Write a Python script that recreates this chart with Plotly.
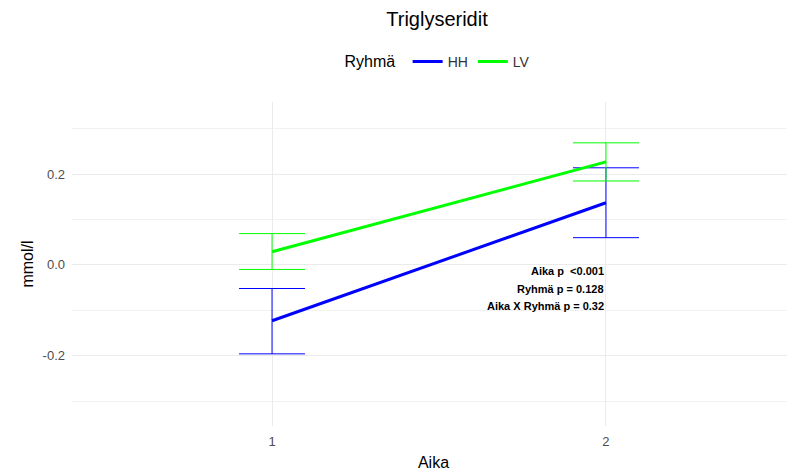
import plotly.graph_objects as go

aika = [1, 2]
groups = ["HH", "LV"]
hh_mean = [-0.123, 0.137]
hh_upper = [-0.052, 0.214]
hh_lower = [-0.196, 0.060]
lv_mean = [0.029, 0.227]
lv_upper = [0.069, 0.269]
lv_lower = [-0.010, 0.185]
colors = {"HH": "#0000FF", "LV": "#00FF00"}
stats_lines = ["Aika p  <0.001", "Ryhmä p = 0.128", "Aika X Ryhmä p = 0.32"]
stats_y = [-0.014, -0.053, -0.091]

FONT = "Liberation Sans, Arial, sans-serif"
W, H = 787, 464  # page body has an 8px margin

fig = go.Figure()
data = {"HH": (hh_mean, hh_upper, hh_lower), "LV": (lv_mean, lv_upper, lv_lower)}
for g in groups:
    m, up, lo = data[g]
    fig.add_trace(go.Scatter(
        x=aika, y=m, mode="lines", name=g,
        line=dict(color=colors[g], width=3),
        error_y=dict(type="data", symmetric=False,
                     array=[u - v for u, v in zip(up, m)],
                     arrayminus=[v - l for v, l in zip(m, lo)],
                     color=colors[g], thickness=1, width=33),
    ))

for txt, yy in zip(stats_lines, stats_y):
    fig.add_annotation(x=2, y=yy, text="<b>" + txt + "</b>", showarrow=False,
                       xanchor="right", yanchor="middle",
                       font=dict(family=FONT, size=11, color="black"))

fig.update_layout(
    width=W, height=H,
    paper_bgcolor="white", plot_bgcolor="white",
    margin=dict(l=64, r=0, t=94, b=46, autoexpand=False),
    font=dict(family=FONT, color="#4D4D4D"),
    title=dict(text="Triglyseridit", xref="container", x=429 / W, xanchor="center",
               yref="container", y=1 - 11 / H, yanchor="middle",
               font=dict(size=20, color="black", family=FONT)),
    legend=dict(orientation="h", xref="container", x=431 / W, xanchor="center",
                yref="container", y=1 - 54 / H, yanchor="middle",
                title=dict(text="Ryhmä ", font=dict(size=16, color="black")),
                font=dict(size=14, color="#333333"), itemwidth=30),
    showlegend=True,
)
fig.update_xaxes(range=[0.401, 2.566], tickvals=[1, 2], ticktext=["1", "2"], automargin=False,
                 showgrid=True, gridcolor="#EBEBEB", gridwidth=1.2, zeroline=False,
                 showline=False, ticks="", ticklabelstandoff=6,
                 tickfont=dict(size=13, color="#4D4D4D"),
                 title=dict(text="Aika", font=dict(size=16, color="black"), standoff=8))
fig.update_yaxes(range=[-0.355, 0.359], tickvals=[-0.2, 0.0, 0.2], ticktext=["-0.2", "0.0", "0.2"],
                 automargin=False,
                 showgrid=True, gridcolor="#EBEBEB", gridwidth=1.2, zeroline=False,
                 minor=dict(tickvals=[-0.3, -0.1, 0.1, 0.3], showgrid=True, gridcolor="#F2F2F2", gridwidth=0.8),
                 showline=False, ticks="", ticklabelstandoff=6,
                 tickfont=dict(size=13, color="#4D4D4D"),
                 title=dict(text="mmol/l", font=dict(size=16, color="black"), standoff=4))

fig.write_html("out.html")
